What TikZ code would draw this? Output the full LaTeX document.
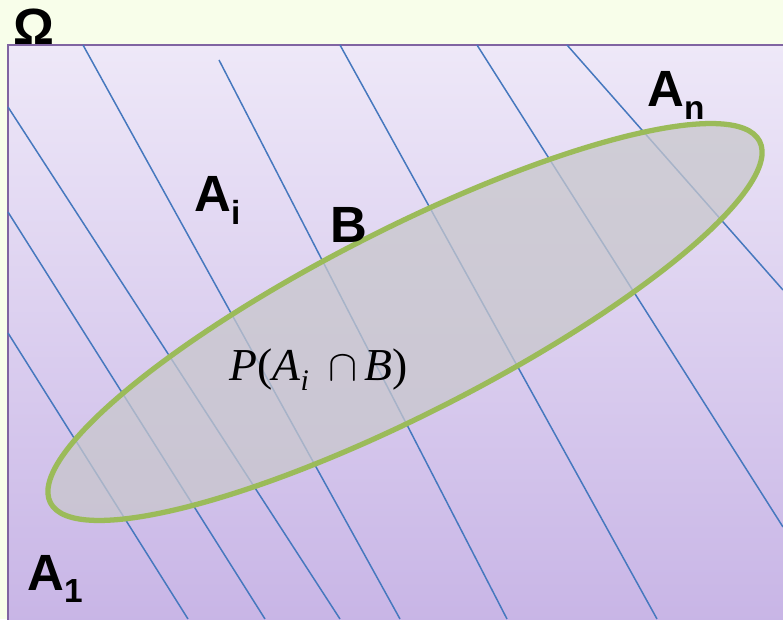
\documentclass[tikz,border=0pt]{standalone}
\usepackage{fontspec}
\setmainfont{Liberation Sans}
\newfontfamily\eqfont{Liberation Serif}
\usepackage{tikz}
\usetikzlibrary{positioning}

\definecolor{paleyellow}{RGB}{248,254,234}
\definecolor{omegatop}{RGB}{238,232,248}
\definecolor{omegabot}{RGB}{200,181,230}
\definecolor{omegaedge}{RGB}{128,100,162}
\definecolor{partblue}{RGB}{70,120,190}
\definecolor{setgreen}{RGB}{155,187,89}
\definecolor{setgray}{RGB}{200,199,204}

\newcommand{\idx}[1]{\raisebox{-7pt}{\fontsize{19}{22}\selectfont #1}}

\begin{document}
\begin{tikzpicture}[
    x=0.02cm, y=0.02cm,
    lab/.style={inner sep=0pt, anchor=base west, font=\fontsize{29}{34}\selectfont\bfseries},
    part/.style={draw=partblue, line width=0.85pt},
    setB/.style={draw=setgreen, line width=3pt, fill=setgray, fill opacity=0.75}
]
\useasboundingbox (0,0) rectangle (783,619);
\fill[paleyellow] (0,0) rectangle (783,619);
\draw[omegaedge, line width=1.2pt, top color=omegatop, bottom color=omegabot] (8,-4) rectangle (788,574);

% partition lines
\foreach \xa/\ya/\xb/\yb in {8/512/340/0, 8/407/265/0, 8/286/188/0, 83/574/400/0,
    219/559/507/0, 340/574/657/0, 477/574/783/92, 567/574/783/329}
    \draw[part] (\xa,\ya) -- (\xb,\yb);

% event B
\coordinate (cB) at (405,297);
\draw[setB, rotate around={27:(cB)}] (cB) ellipse [x radius=398, y radius=92];

% labels
\node[lab] (omega) at (13,574) {Ω};
\node[lab] (an) at (647,512) {A\idx{n}};
\node[lab] (ai) at (194,407) {A\idx{i}};
\node[lab] (b) at (330,377) {B};
\node[lab] (a1) at (27,29) {A\idx{1}};
\node[inner sep=0pt, anchor=base west, font=\eqfont\fontsize{26}{30}\selectfont] (prob) at (229,239)
    {\textit{P}(\textit{A}\raisebox{-6pt}{\fontsize{17}{20}\selectfont\textit{i}}\hspace{11pt}$\cap$\hspace{4pt}\textit{B})};

\end{tikzpicture}
\end{document}
